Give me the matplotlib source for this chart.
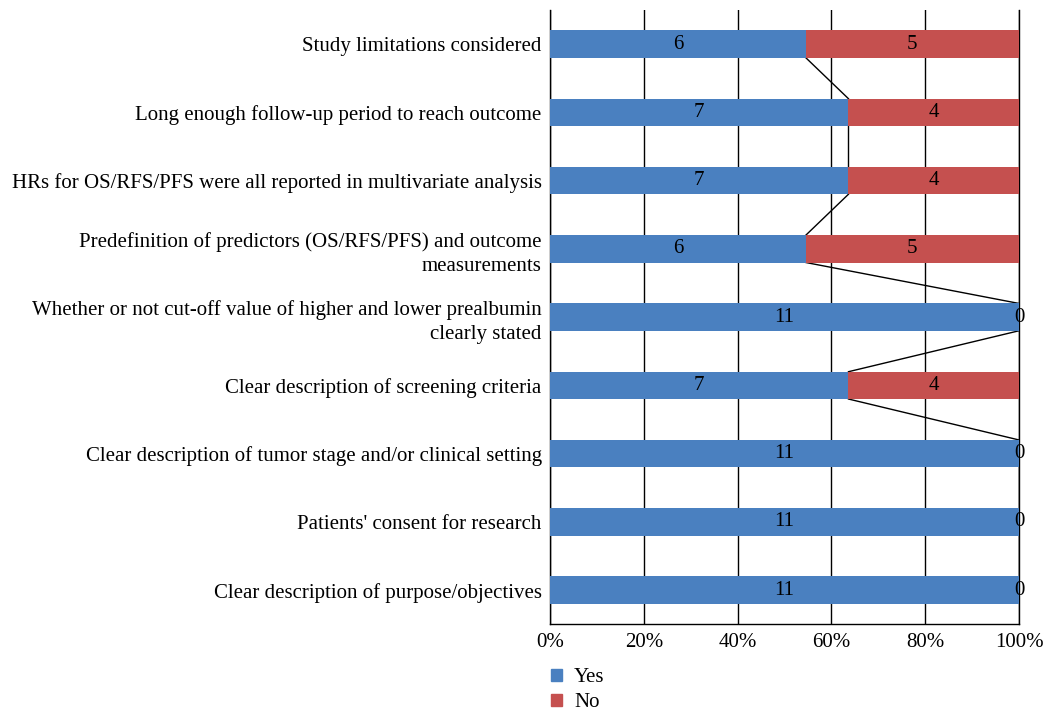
import numpy as np
import matplotlib.pyplot as plt
from matplotlib.patches import Patch

plt.rcParams['font.family'] = ['Liberation Serif', 'DejaVu Serif']

# categories from bottom to top
items = [
    "Clear description of purpose/objectives",
    "Patients' consent for research",
    "Clear description of tumor stage and/or clinical setting",
    "Clear description of screening criteria",
    "Whether or not cut-off value of higher and lower prealbumin\nclearly stated",
    "Predefinition of predictors (OS/RFS/PFS) and outcome\nmeasurements",
    "HRs for OS/RFS/PFS were all reported in multivariate analysis",
    "Long enough follow-up period to reach outcome",
    "Study limitations considered",
]
yes = np.array([11, 11, 11, 7, 11, 6, 7, 7, 6])
no = np.array([0, 0, 0, 4, 0, 5, 4, 4, 5])

blue = '#4A80C0'
red = '#C5504F'
fs = 15

tot = yes + no
yp = yes / tot * 100
npct = no / tot * 100
y = np.arange(len(items))
h = 0.4

fig = plt.figure(figsize=(10.46, 7.11), dpi=100)
ax = fig.add_axes([0.5258, 0.122, 0.4484, 0.864])

ax.barh(y, yp, height=h, color=blue, zorder=3)
ax.barh(y, npct, left=yp, height=h, color=red, zorder=3)

# series lines between bars
for i in range(len(y) - 1):
    ax.plot([yp[i], yp[i + 1]], [y[i] + h / 2, y[i + 1] - h / 2],
            color='black', lw=1, zorder=2)

for i in range(len(y)):
    ax.text(yp[i] / 2, y[i], str(yes[i]), ha='center', va='center',
            fontsize=fs, zorder=4)
    ax.text(yp[i] + npct[i] / 2, y[i], str(no[i]), ha='center', va='center',
            fontsize=fs, zorder=4)

ax.set_xlim(0, 100)
ax.set_ylim(-0.5, len(items) - 0.5)
ax.set_xticks(np.arange(0, 101, 20))
ax.set_xticklabels([f"{v}%" for v in range(0, 101, 20)], fontsize=fs)
ax.set_yticks(y)
ax.set_yticklabels(items, fontsize=fs, linespacing=1.35)
ax.tick_params(axis='y', length=0, pad=6)
ax.tick_params(axis='x', length=0, pad=6)
ax.xaxis.grid(True, color='black', lw=1, zorder=0)
ax.axvline(100, color='black', lw=1, zorder=1, clip_on=False)
for s in ['top', 'right']:
    ax.spines[s].set_visible(False)
ax.spines['left'].set_linewidth(1)
ax.spines['bottom'].set_linewidth(1)

handles = [Patch(color=blue, label='Yes'), Patch(color=red, label='No')]
fig.legend(handles=handles, loc='upper left', bbox_to_anchor=(0.519, 0.072),
           frameon=False, fontsize=fs, handlelength=0.5, handleheight=0.5,
           handletextpad=0.6, labelspacing=0.3, borderaxespad=0)

fig.savefig('out.png', dpi=100)
